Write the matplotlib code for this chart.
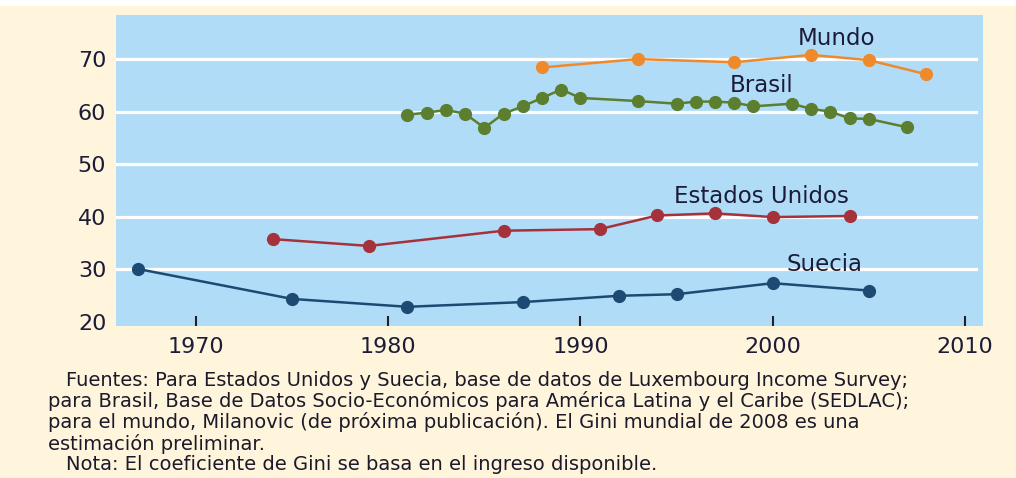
import numpy as np
import matplotlib.pyplot as plt
from matplotlib.patches import Rectangle

# Gini coefficients
mundo_years = [1988, 1993, 1998, 2002, 2005, 2008]
mundo_vals = [68.4, 70.0, 69.4, 70.8, 69.8, 67.1]

brasil_years = [1981, 1982, 1983, 1984, 1985, 1986, 1987, 1988, 1989, 1990,
                1993, 1995, 1996, 1997, 1998, 1999, 2001, 2002, 2003, 2004,
                2005, 2007]
brasil_vals = [59.4, 59.8, 60.3, 59.6, 56.9, 59.6, 61.0, 62.6, 64.2, 62.6,
               62.0, 61.5, 61.9, 61.9, 61.7, 61.0, 61.5, 60.5, 60.0, 58.7,
               58.6, 57.0]

eeuu_years = [1974, 1979, 1986, 1991, 1994, 1997, 2000, 2004]
eeuu_vals = [35.7, 34.4, 37.3, 37.6, 40.2, 40.6, 39.9, 40.1]

suecia_years = [1967, 1975, 1981, 1987, 1992, 1995, 2000, 2005]
suecia_vals = [30.0, 24.3, 22.8, 23.7, 24.9, 25.2, 27.3, 25.9]

x_ticks = [1970, 1980, 1990, 2000, 2010]
y_ticks = [20, 30, 40, 50, 60, 70]

footer = [
    "Fuentes: Para Estados Unidos y Suecia, base de datos de Luxembourg Income Survey;",
    "para Brasil, Base de Datos Socio-Económicos para América Latina y el Caribe (SEDLAC);",
    "para el mundo, Milanovic (de próxima publicación). El Gini mundial de 2008 es una",
    "estimación preliminar.",
    "Nota: El coeficiente de Gini se basa en el ingreso disponible.",
]

plt.rcParams['font.family'] = ['DejaVu Sans']

bg = '#fff4dc'
ink = '#1c1c38'
fig = plt.figure(figsize=(10.16, 4.78), dpi=100, facecolor=bg)
fig.patches.append(Rectangle((0, 1 - 6 / 478), 1, 6 / 478, transform=fig.transFigure,
                             facecolor='white', edgecolor='none'))

ax = fig.add_axes([116 / 1016, 1 - 325.7 / 478, 867 / 1016, 310.7 / 478])
ax.set_facecolor('#b0dcf8')
for s in ax.spines.values():
    s.set_visible(False)

for g in [30, 40, 50, 60, 70]:
    ax.axhline(g, xmin=0, xmax=0.992, color='white', lw=2.3, zorder=1)

series = [
    (mundo_years, mundo_vals, '#ee8a2c'),
    (brasil_years, brasil_vals, '#5b7f2e'),
    (eeuu_years, eeuu_vals, '#a5323b'),
    (suecia_years, suecia_vals, '#1d4a73'),
]
for xs, ys, c in series:
    ax.plot(xs, ys, '-o', color=c, lw=1.8, ms=8.5, zorder=3)

txt = dict(fontsize=16.5, color=ink, ha='center', va='center', zorder=4)
ax.text(2003.3, 74.0, "Mundo", **txt)
ax.text(1999.4, 64.95, "Brasil", **txt)
ax.text(1999.4, 43.75, "Estados Unidos", **txt)
ax.text(2002.7, 30.8, "Suecia", **txt)

ax.set_xlim(1965.84, 2010.94)
ax.set_ylim(19.2, 78.4)
ax.set_xticks(x_ticks)
ax.set_yticks(y_ticks)
ax.tick_params(axis='x', direction='in', length=7, width=1.5, color='#222222',
               labelsize=16, labelcolor=ink, pad=8)
ax.tick_params(axis='y', length=0, labelsize=16, labelcolor=ink, pad=7)

ys = [380, 401, 422, 444, 465]
xs = [66, 48, 48, 48, 66]
for line, x, y in zip(footer, xs, ys):
    fig.text(x / 1016, 1 - y / 478, line, fontsize=14.0, color='#1a1a2a',
             ha='left', va='center')

fig.savefig('out.png', dpi=100, facecolor=bg)
